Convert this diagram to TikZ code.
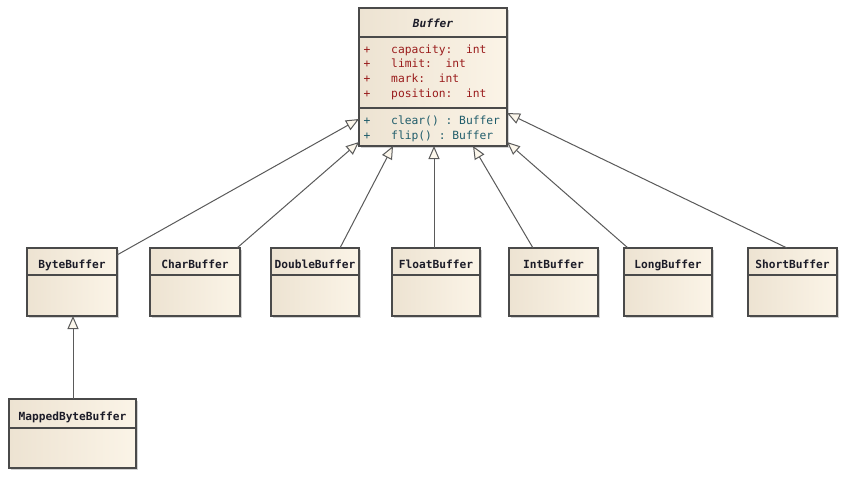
\documentclass[tikz,border=0pt]{standalone}
\usepackage{fontspec}
\setmonofont{DejaVu Sans Mono}
\usetikzlibrary{arrows.meta,shadows,calc}
\definecolor{boxline}{HTML}{4A4A4A}
\definecolor{fillL}{HTML}{EDE3D2}
\definecolor{fillR}{HTML}{FBF4E7}
\definecolor{attrc}{HTML}{9A1C1C}
\definecolor{methc}{HTML}{1F5C6A}
\definecolor{namec}{HTML}{1C1C28}
\definecolor{connc}{HTML}{5A5A5A}
\definecolor{tipfill}{HTML}{FCF7EC}
\begin{document}
\begin{tikzpicture}[x=1pt,y=-1pt,
  cls/.style={draw=boxline, line width=1.2pt, left color=fillL, right color=fillR,
    anchor=north west, inner sep=0pt, outer sep=0pt,
    drop shadow={shadow xshift=1.5pt, shadow yshift=-1.5pt, opacity=0.35}},
  sepline/.style={draw=boxline, line width=1.2pt},
  cname/.style={font=\ttfamily\bfseries\fontsize{11.2}{13}\selectfont, text=namec, anchor=base, inner sep=0pt},
  attr/.style={font=\ttfamily\fontsize{11.3}{13}\selectfont, text=attrc, anchor=base west, inner sep=0pt},
  meth/.style={font=\ttfamily\fontsize{11.3}{13}\selectfont, text=methc, anchor=base west, inner sep=0pt},
  plusa/.style={font=\ttfamily\fontsize{11.3}{13}\selectfont, text=attrc, anchor=base, inner sep=0pt},
  plusm/.style={font=\ttfamily\fontsize{11.3}{13}\selectfont, text=methc, anchor=base, inner sep=0pt},
  gen/.style={draw=connc, line width=1pt, -{Triangle[length=13pt,width=11pt,fill=tipfill]}}
]
\useasboundingbox[fill=white] (0,0) rectangle (844,477);

% Buffer
\node[cls, minimum width=148pt, minimum height=138pt] (buf) at (359,8) {};
\draw[sepline] ($(buf.north west)+(0,29)$) -- ($(buf.north east)+(0,29)$);
\draw[sepline] ($(buf.north west)+(0,100)$) -- ($(buf.north east)+(0,100)$);
\node[cname, font=\ttfamily\bfseries\itshape\fontsize{11.2}{13}\selectfont] (buft) at (433,27) {Buffer};
\node[plusa] (p1) at (367,53) {+};
\node[plusa] (p2) at (367,67) {+};
\node[plusa] (p3) at (367,82) {+};
\node[plusa] (p4) at (367,97) {+};
\node[plusm] (p5) at (367,124) {+};
\node[plusm] (p6) at (367,139) {+};
\node[attr] (a1) at (391,53) {capacity:\ \ int};
\node[attr] (a2) at (391,67) {limit:\ \ int};
\node[attr] (a3) at (391,82) {mark:\ \ int};
\node[attr] (a4) at (391,97) {position:\ \ int};
\node[meth] (m1) at (391,124) {clear() : Buffer};
\node[meth] (m2) at (391,139) {flip() : Buffer};

% children
\node[cls, minimum width=90pt, minimum height=68pt] (byte) at (27,248) {};
\node[cls, minimum width=90pt, minimum height=68pt] (char) at (150,248) {};
\node[cls, minimum width=88pt, minimum height=68pt] (dbl) at (271,248) {};
\node[cls, minimum width=88pt, minimum height=68pt] (flt) at (392,248) {};
\node[cls, minimum width=89pt, minimum height=68pt] (int) at (509,248) {};
\node[cls, minimum width=88pt, minimum height=68pt] (lng) at (624,248) {};
\node[cls, minimum width=89pt, minimum height=68pt] (sht) at (748,248) {};
\node[cls, minimum width=127pt, minimum height=69pt] (map) at (9,399) {};

\foreach \n in {byte,char,dbl,flt,int,lng,sht}{
  \draw[sepline] ($(\n.north west)+(0,27)$) -- ($(\n.north east)+(0,27)$);
}
\draw[sepline] ($(map.north west)+(0,29)$) -- ($(map.north east)+(0,29)$);

\node[cname] (bytet) at ($(byte.north)+(0,20)$) {ByteBuffer};
\node[cname] (chart) at ($(char.north)+(0,20)$) {CharBuffer};
\node[cname] (dblt) at ($(dbl.north)+(0,20)$) {DoubleBuffer};
\node[cname] (fltt) at ($(flt.north)+(0,20)$) {FloatBuffer};
\node[cname] (intt) at ($(int.north)+(0,20)$) {IntBuffer};
\node[cname] (lngt) at ($(lng.north)+(0,20)$) {LongBuffer};
\node[cname] (shtt) at ($(sht.north)+(0,20)$) {ShortBuffer};
\node[cname] (mapt) at ($(map.north)+(0,21)$) {MappedByteBuffer};

% generalizations
\draw[gen] ($(byte.north east)+(0,7)$) -- ($(buf.north west)+(0,111)$);
\draw[gen] ($(char.north east)+(-3,0)$) -- ($(buf.south west)+(0,-4)$);
\draw[gen] ($(dbl.north west)+(69,0)$) -- ($(buf.south west)+(34,0)$);
\draw[gen] ($(flt.north west)+(42,0)$) -- ($(buf.south west)+(75,0)$);
\draw[gen] ($(int.north west)+(24,0)$) -- ($(buf.south west)+(114,0)$);
\draw[gen] ($(lng.north west)+(4,0)$) -- ($(buf.south east)+(0,-4)$);
\draw[gen] ($(sht.north west)+(39,0)$) -- ($(buf.north east)+(0,105)$);
\draw[gen] ($(map.north west)+(64,0)$) -- ($(byte.south west)+(46,0)$);
\end{tikzpicture}
\end{document}
